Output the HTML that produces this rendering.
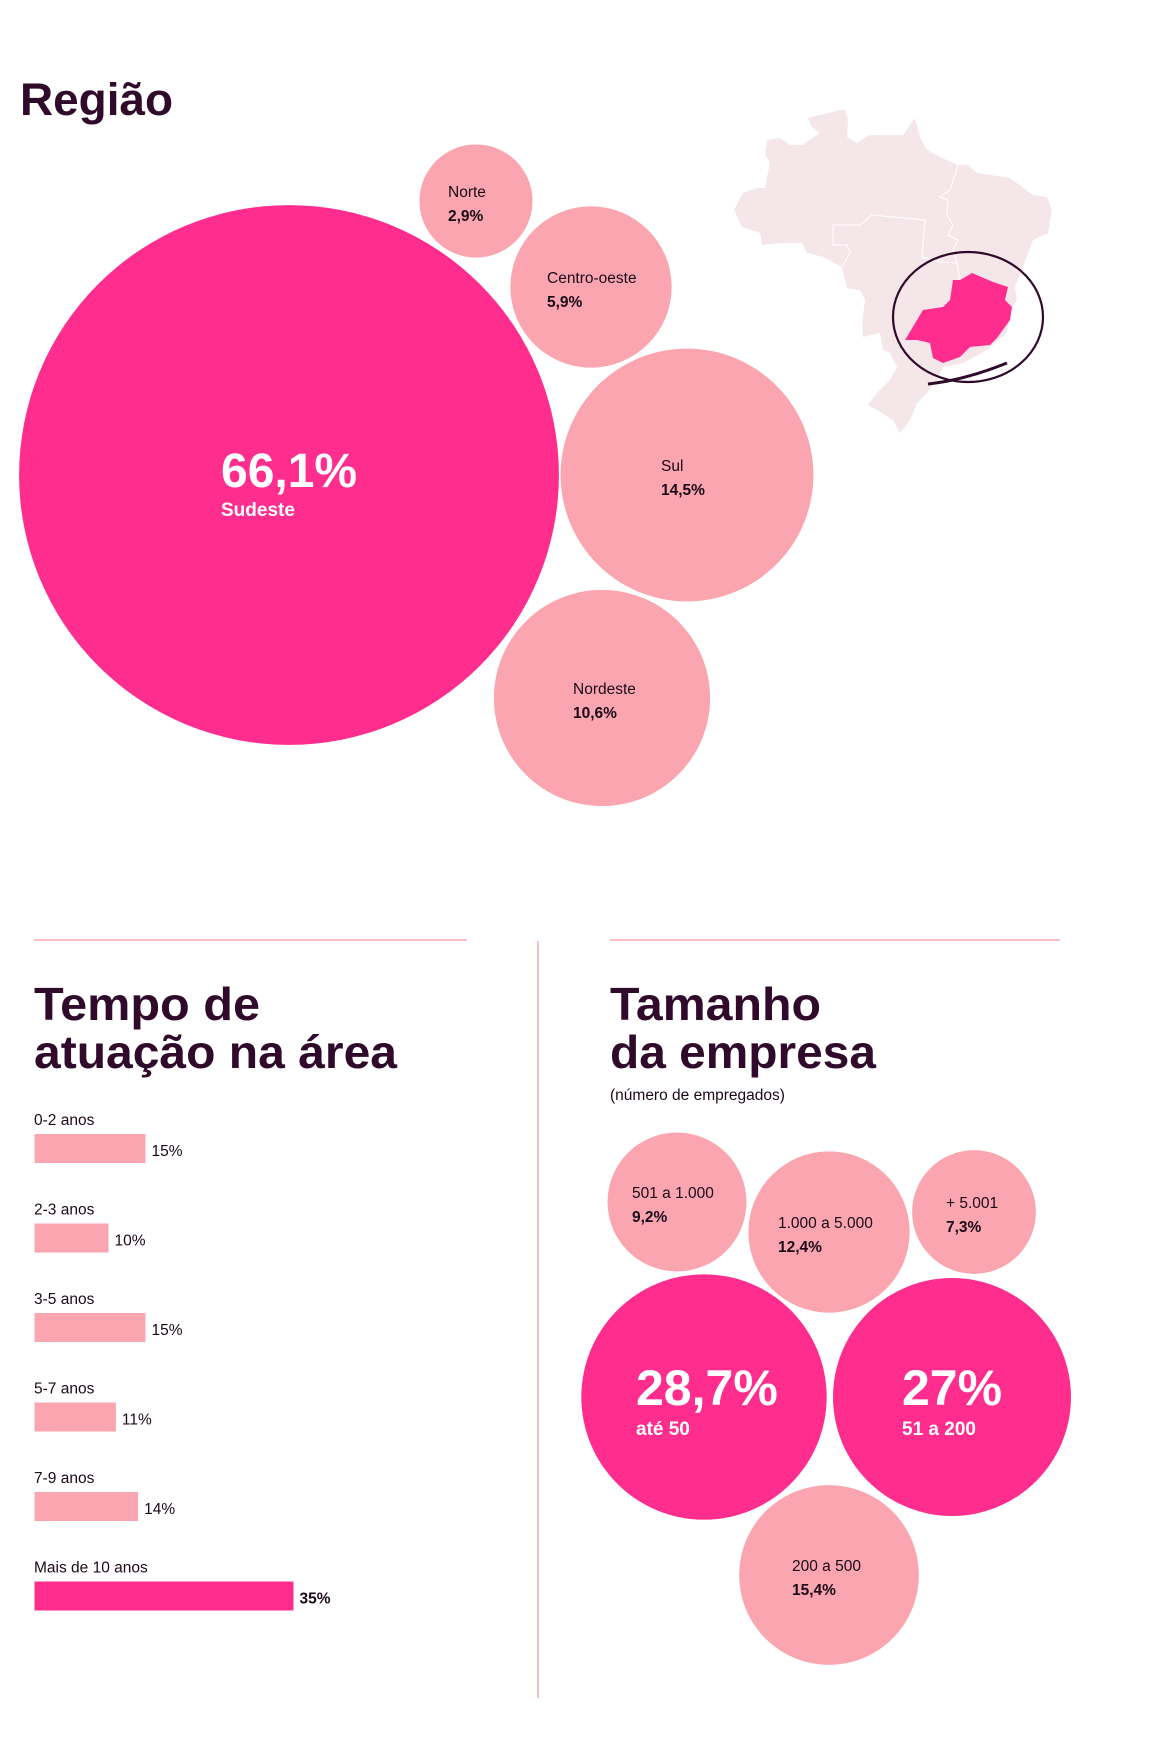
<!DOCTYPE html>
<html><head><meta charset="utf-8">
<style>
body{margin:0;background:#fff;}
svg{display:block;font-family:"Liberation Sans",sans-serif;}
.h{font-weight:bold;fill:#300a2a;}
.lbl{font-size:15.5px;fill:#1a0a18;}
.val{font-size:15.5px;font-weight:bold;fill:#1a0a18;}
</style></head>
<body>
<svg id="chart" width="1162" height="1752" viewBox="0 0 1162 1752" xmlns="http://www.w3.org/2000/svg">
<text class="h" x="20" y="115" font-size="45" textLength="153" lengthAdjust="spacingAndGlyphs">Região</text>
<g>
<polygon fill="#f5e6ea" points="808,118 840,110 845,110 848,120 847,137 857,143 870,135 903,135 915,118 920,137 927,150 940,157 958,165 968,165 977,173 1010,178 1033,195 1047,197 1052,210 1048,233 1033,240 1023,267 1015,287 1017,300 1010,310 1007,333 987,350 963,363 943,367 937,380 927,393 917,403 910,420 900,433 893,420 877,410 868,405 877,393 890,380 897,367 890,353 883,350 880,333 863,337 862,323 865,300 860,290 847,288 842,267 823,257 807,253 802,243 780,243 762,245 760,233 742,227 734,210 743,193 757,188 765,188 770,162 765,155 767,140 780,138 790,145 802,145 820,133 812,127"/>
<polyline fill="none" stroke="#fff" stroke-width="1" points="958,165 950,190 940,197 948,200 947,215 953,225 948,235 958,240 953,250 957,263 960,280"/>
<polyline fill="none" stroke="#fff" stroke-width="1" points="842,267 850,253 847,245 833,245 833,225 860,225 872,215 925,220 922,257 940,262 957,263"/>
<polygon fill="#ff2d8e" points="905,340 923,310 943,307 950,300 953,280 960,280 972,273 993,282 1008,287 1005,300 1012,307 1010,320 997,338 990,345 970,347 960,357 943,363 933,358 930,343 917,340"/>
<ellipse cx="968" cy="317" rx="75" ry="65" fill="none" stroke="#300a2a" stroke-width="2.2"/>
<path d="M928,384 Q965,380 1007,363" fill="none" stroke="#300a2a" stroke-width="3"/>
</g>
<g id="region"></g>
<line x1="34" y1="940" x2="467" y2="940" stroke="#faa5b0" stroke-width="1.5"/>
<line x1="610" y1="940" x2="1060" y2="940" stroke="#faa5b0" stroke-width="1.5"/>
<line x1="538" y1="941" x2="538" y2="1698" stroke="#faa5b0" stroke-width="1.5"/>
<text class="h" x="34" y="1020" font-size="46" textLength="226" lengthAdjust="spacingAndGlyphs">Tempo de</text>
<text class="h" x="34" y="1068" font-size="46" textLength="363" lengthAdjust="spacingAndGlyphs">atuação na área</text>
<text class="h" x="610" y="1020" font-size="46" textLength="211" lengthAdjust="spacingAndGlyphs">Tamanho</text>
<text class="h" x="610" y="1068" font-size="46" textLength="266" lengthAdjust="spacingAndGlyphs">da empresa</text>
<text x="610" y="1100" font-size="15.5" fill="#1a0a18">(número de empregados)</text>
<g id="bars"></g>
<g id="company"></g>
</svg>
<script>
// Region bubbles
const regionNames = ["Sudeste","Norte","Centro-oeste","Sul","Nordeste"];
const regionValues = [66.1, 2.9, 5.9, 14.5, 10.6];
const regionLabels = ["66,1%","2,9%","5,9%","14,5%","10,6%"];
// Experience bars
const expCats = ["0-2 anos","2-3 anos","3-5 anos","5-7 anos","7-9 anos","Mais de 10 anos"];
const expValues = [15, 10, 15, 11, 14, 35];
const expLabels = ["15%","10%","15%","11%","14%","35%"];
// Company size bubbles
const compNames = ["501 a 1.000","1.000 a 5.000","+ 5.001","até 50","51 a 200","200 a 500"];
const compValues = [9.2, 12.4, 7.3, 28.7, 27, 15.4];
const compLabels = ["9,2%","12,4%","7,3%","28,7%","27%","15,4%"];

const NS="http://www.w3.org/2000/svg";
function mk(tag, attrs, parent, txt){const e=document.createElementNS(NS,tag);for(const k in attrs)e.setAttribute(k,attrs[k]);if(txt!==undefined)e.textContent=txt;parent.appendChild(e);return e;}
const rScaleRegion = v => 33.2*Math.sqrt(v);
const rScaleComp = v => 22.9*Math.sqrt(v);
const regionCenters = [[289,475],[476,201],[591,287],[687,475],[602,698]];
const regionLabelDx = [-68,-28,-44,-26,-29];
const compCenters = [[677,1202],[829,1232],[974,1212],[704,1397],[952,1397],[829,1575]];
const compLabelDx = [-45,-51,-28,-68,-50,-37];

const rg=document.getElementById('region');
regionValues.forEach((v,i)=>{
  const [cx,cy]=regionCenters[i]; const r=rScaleRegion(v); const big=i===0;
  const c=mk('circle',{cx:cx,cy:cy,r:r,fill:big?'#ff2d8e':'#faa5b0'},rg);
  
  
  const lx=cx+regionLabelDx[i];
  if(big){
    const t1=mk('text',{x:lx,y:cy+12,'font-size':48,'font-weight':'bold',fill:'#fff'},rg,regionLabels[i]);
    
    
    const t2=mk('text',{x:lx,y:cy+41,'font-size':19,'font-weight':'bold',fill:'#fff'},rg,regionNames[i]);
    
    
  } else {
    const t1=mk('text',{x:lx,y:cy-4,class:'lbl'},rg,regionNames[i]);
    
    
    const t2=mk('text',{x:lx,y:cy+20,class:'val'},rg,regionLabels[i]);
    
    
  }
});

const bg=document.getElementById('bars');
const xBar=v=>v*7.4;
expValues.forEach((v,i)=>{
  const y0=1125+i*89.5; const hi=i===5;
  const t=mk('text',{x:34,y:y0,class:'lbl'},bg,expCats[i]);
  
  
  const b=mk('rect',{x:34.5,y:y0+9,width:xBar(v),height:29,fill:hi?'#ff2d8e':'#faa5b0'},bg);
  
  
  const vt=mk('text',{x:34.5+xBar(v)+6,y:y0+31,class:hi?'val':'lbl',fill:hi?'#300a2a':'#1a0a18'},bg,expLabels[i]);
  
  
});

const cg=document.getElementById('company');
compValues.forEach((v,i)=>{
  const [cx,cy]=compCenters[i]; const r=rScaleComp(v); const big=v>20;
  const c=mk('circle',{cx:cx,cy:cy,r:r,fill:big?'#ff2d8e':'#faa5b0'},cg);
  
  
  const lx=cx+compLabelDx[i];
  if(big){
    const t1=mk('text',{x:lx,y:cy+8,'font-size':50,'font-weight':'bold',fill:'#fff'},cg,compLabels[i]);
    
    
    const t2=mk('text',{x:lx,y:cy+38,'font-size':19,'font-weight':'bold',fill:'#fff'},cg,compNames[i]);
    
    
  } else {
    const t1=mk('text',{x:lx,y:cy-4,class:'lbl'},cg,compNames[i]);
    
    
    const t2=mk('text',{x:lx,y:cy+20,class:'val'},cg,compLabels[i]);
    
    
  }
});
</script>
</body></html>
